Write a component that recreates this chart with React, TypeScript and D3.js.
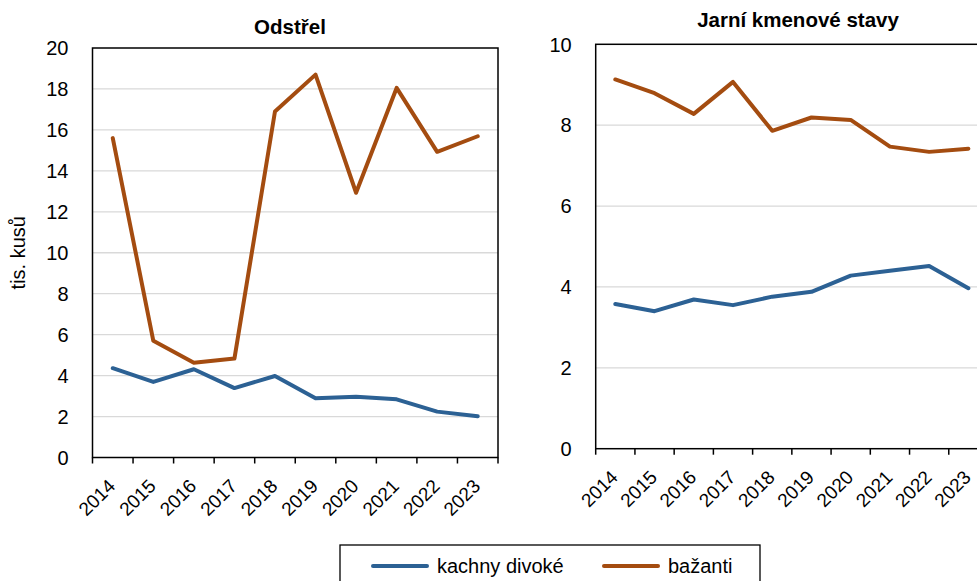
import * as d3 from 'd3';

const YEARS = ['2014', '2015', '2016', '2017', '2018', '2019', '2020', '2021', '2022', '2023'];

// Odstřel (tis. kusů)
const SHOT_DUCKS = [4.36, 3.69, 4.31, 3.39, 3.98, 2.89, 2.97, 2.84, 2.24, 2.01];
const SHOT_PHEASANTS = [15.6, 5.7, 4.63, 4.83, 16.9, 18.7, 12.93, 18.05, 14.93, 15.69];

// Jarní kmenové stavy (tis. kusů)
const SPRING_DUCKS = [3.58, 3.4, 3.69, 3.55, 3.76, 3.88, 4.28, 4.4, 4.52, 3.97];
const SPRING_PHEASANTS = [9.13, 8.79, 8.28, 9.07, 7.86, 8.19, 8.13, 7.47, 7.34, 7.42];

const LEFT_TICKS = [0, 2, 4, 6, 8, 10, 12, 14, 16, 18, 20];
const RIGHT_TICKS = [0, 2, 4, 6, 8, 10];

const SERIES_LABELS = ['kachny divoké', 'bažanti'];
const COLORS = ['#2c6194', '#a44c10'];

const FONT = 'Liberation Sans, Arial, sans-serif';
const WIDTH = 977;
const HEIGHT = 581;

interface PanelProps {
  title: string;
  titleX: number;
  titleY: number;
  left: number;
  right: number;
  top: number;
  bottom: number;
  yMax: number;
  yTicks: number[];
  ducks: number[];
  pheasants: number[];
  yLabel?: string;
}

function Panel({ title, titleX, titleY, left, right, top, bottom, yMax, yTicks, ducks, pheasants, yLabel }: PanelProps) {
  const x = d3.scaleBand<string>().domain(YEARS).range([left, right]);
  const y = d3.scaleLinear().domain([0, yMax]).range([bottom, top]);
  const line = d3
    .line<number>()
    .x((_, i) => (x(YEARS[i]) ?? 0) + x.bandwidth() / 2)
    .y((d) => y(d));
  const boundaries = YEARS.map((yr) => x(yr) ?? 0).concat([right]);

  return (
    <g>
      <text x={titleX} y={titleY} textAnchor="middle" fontFamily={FONT} fontWeight="bold" fontSize={20.5} fill="#000">
        {title}
      </text>
      {/* gridlines */}
      {yTicks.slice(1, -1).map((t) => (
        <line key={t} x1={left} x2={right} y1={y(t)} y2={y(t)} stroke="#d9d9d9" strokeWidth={1.3} />
      ))}
      {/* frame */}
      <rect x={left} y={top} width={right - left} height={bottom - top} fill="none" stroke="#000" strokeWidth={1.5} />
      {/* y tick labels */}
      {yTicks.map((t) => (
        <text key={t} x={left - 24} y={y(t)} dy="0.36em" textAnchor="end" fontFamily={FONT} fontSize={20} fill="#000">
          {t}
        </text>
      ))}
      {/* x ticks */}
      {boundaries.map((bx, i) => (
        <line key={i} x1={bx} x2={bx} y1={bottom} y2={bottom + 6} stroke="#000" strokeWidth={1.5} />
      ))}
      {YEARS.map((yr) => {
        const cx = (x(yr) ?? 0) + x.bandwidth() / 2 - 1;
        const cy = bottom + 25;
        return (
          <text
            key={yr}
            transform={`translate(${cx}, ${cy}) rotate(-45)`}
            textAnchor="end"
            dy="0.35em"
            fontFamily={FONT}
            fontSize={19}
            fill="#000"
          >
            {yr}
          </text>
        );
      })}
      {yLabel && (
        <text
          transform={`translate(18, ${(top + bottom) / 2}) rotate(-90)`}
          textAnchor="middle"
          dy="0.35em"
          fontFamily={FONT}
          fontSize={20}
          fill="#000"
        >
          {yLabel}
        </text>
      )}
      <path d={line(ducks) ?? ''} fill="none" stroke={COLORS[0]} strokeWidth={4} strokeLinejoin="round" strokeLinecap="round" />
      <path d={line(pheasants) ?? ''} fill="none" stroke={COLORS[1]} strokeWidth={4} strokeLinejoin="round" strokeLinecap="round" />
    </g>
  );
}

export default function App() {
  const legendItems = [
    { label: SERIES_LABELS[0], color: COLORS[0], x: 373 },
    { label: SERIES_LABELS[1], color: COLORS[1], x: 604 },
  ];
  return (
    <svg
      width={WIDTH}
      height={HEIGHT}
      viewBox={`0 0 ${WIDTH} ${HEIGHT}`}
      style={{ position: 'absolute', left: 0, top: 0, display: 'block', background: '#fff' }}
    >
      <rect width={WIDTH} height={HEIGHT} fill="#fff" />
      <Panel
        title="Odstřel"
        titleX={290}
        titleY={34}
        left={92.5}
        right={498}
        top={48}
        bottom={457.5}
        yMax={20}
        yTicks={LEFT_TICKS}
        ducks={SHOT_DUCKS}
        pheasants={SHOT_PHEASANTS}
        yLabel="tis. kusů"
      />
      <Panel
        title="Jarní kmenové stavy"
        titleX={798}
        titleY={26.5}
        left={595.7}
        right={988}
        top={44.3}
        bottom={448.7}
        yMax={10}
        yTicks={RIGHT_TICKS}
        ducks={SPRING_DUCKS}
        pheasants={SPRING_PHEASANTS}
      />
      {/* legend */}
      <rect x={340} y={545} width={420} height={50} fill="#fff" stroke="#000" strokeWidth={1.3} />
      {legendItems.map((item) => (
        <g key={item.label}>
          <line x1={item.x} x2={item.x + 54} y1={566} y2={566} stroke={item.color} strokeWidth={4} strokeLinecap="round" />
          <text x={item.x + 64} y={566} dy="0.35em" fontFamily={FONT} fontSize={20} fill="#000">
            {item.label}
          </text>
        </g>
      ))}
    </svg>
  );
}
